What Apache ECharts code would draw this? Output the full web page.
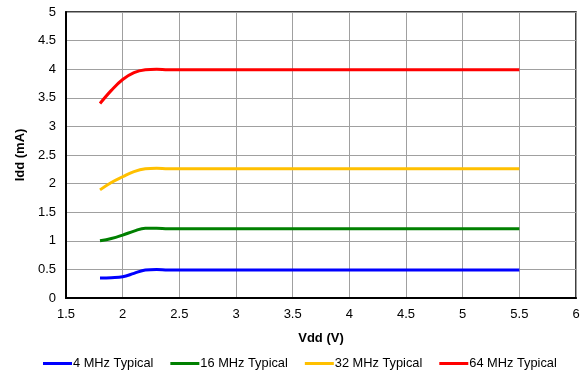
<!DOCTYPE html>
<html><head><meta charset="utf-8">
<script src="https://cdn.jsdelivr.net/npm/echarts@6/dist/echarts.min.js"></script>
<style>html,body{margin:0;padding:0;background:#fff}#c{width:583px;height:375px}</style>
</head><body><div id="c"></div>
<script>
const vdd = [1.8, 1.9, 2.0, 2.1, 2.2, 2.3, 2.4, 2.5, 3.0, 3.5, 4.0, 4.5, 5.0, 5.5];
const idd4  = [0.35, 0.355, 0.37, 0.43, 0.49, 0.50, 0.49, 0.49, 0.49, 0.49, 0.49, 0.49, 0.49, 0.49];
const idd16 = [1.00, 1.04, 1.10, 1.17, 1.22, 1.22, 1.21, 1.21, 1.21, 1.21, 1.21, 1.21, 1.21, 1.21];
const idd32 = [1.89, 2.02, 2.12, 2.21, 2.26, 2.27, 2.26, 2.26, 2.26, 2.26, 2.26, 2.26, 2.26, 2.26];
const idd64 = [3.40, 3.63, 3.82, 3.94, 3.99, 4.00, 3.99, 3.99, 3.99, 3.99, 3.99, 3.99, 3.99, 3.99];
const seriesNames = ['4 MHz Typical', '16 MHz Typical', '32 MHz Typical', '64 MHz Typical'];
const seriesData = [idd4, idd16, idd32, idd64];
const colors = ['#0000ff', '#008000', '#ffc000', '#ff0000'];

const chart = echarts.init(document.getElementById('c'), null, {renderer: 'canvas'});
const font = 'Liberation Sans, Arial, sans-serif';
chart.setOption({
  animation: false,
  grid: {left: 66, right: 7, top: 12, bottom: 77, show: true, borderColor: '#000', borderWidth: 1.5},
  legend: {
    bottom: 0, left: 38, itemWidth: 29, itemHeight: 3, itemGap: 17, icon: 'rect',
    textStyle: {fontFamily: font, fontSize: 12.8, color: '#000', padding: [0, 0, 0, -4]},
    data: seriesNames
  },
  xAxis: {
    type: 'value', min: 1.5, max: 6, interval: 0.5,
    name: 'Vdd (V)', nameLocation: 'middle', nameGap: 34,
    nameTextStyle: {fontFamily: font, fontSize: 13, fontWeight: 'bold', color: '#000'},
    axisLine: {show: true, lineStyle: {color: '#000', width: 2}},
    axisTick: {show: false},
    axisLabel: {fontFamily: font, fontSize: 13, color: '#000', margin: 10},
    splitLine: {show: true, lineStyle: {color: '#a0a0a0', width: 1}}
  },
  yAxis: {
    type: 'value', min: 0, max: 5, interval: 0.5,
    name: 'Idd (mA)', nameLocation: 'middle', nameGap: 39, nameRotate: 90,
    nameTextStyle: {fontFamily: font, fontSize: 13, fontWeight: 'bold', color: '#000'},
    axisLine: {show: true, lineStyle: {color: '#000', width: 2}},
    axisTick: {show: false},
    axisLabel: {fontFamily: font, fontSize: 13, color: '#000', margin: 10},
    splitLine: {show: true, lineStyle: {color: '#a0a0a0', width: 1}}
  },
  series: seriesNames.map((n, i) => ({
    name: n, type: 'line', smooth: 0.4, showSymbol: false, symbol: 'none',
    data: vdd.map((x, j) => [x, seriesData[i][j]]),
    lineStyle: {color: colors[i], width: 3},
    itemStyle: {color: colors[i]}
  }))
});
</script></body></html>
